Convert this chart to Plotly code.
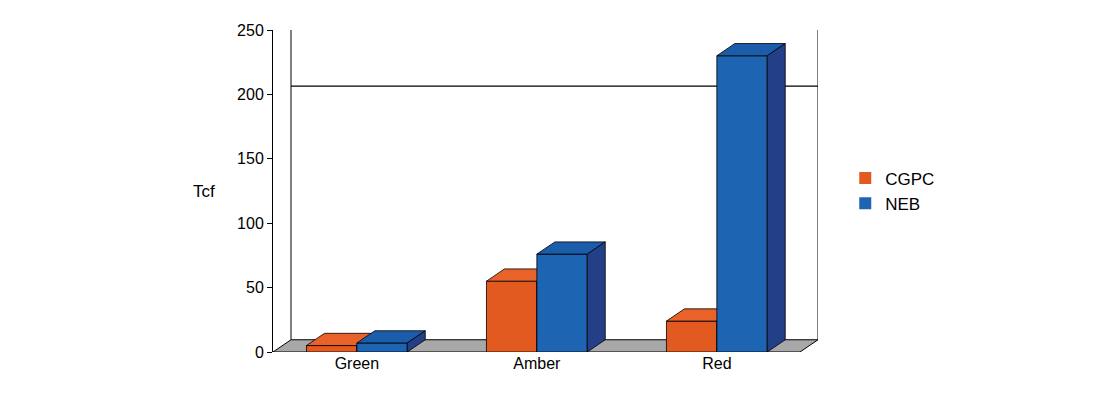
import plotly.graph_objects as go

categories = ["Green", "Amber", "Red"]
cgpc = [5, 55, 24]
neb = [7, 76, 230]
ref_line = 197
series = [("CGPC", cgpc, "#E35A20", "#E8622A", "#B8431A"),
          ("NEB", neb, "#1D64B2", "#1B5DAA", "#223F88")]

W = 0.28
DX = 0.1
DY = 9.5
XL, XR = -0.466, 2.462
xs = list(range(len(categories)))
fig = go.Figure()

fig.add_shape(type="path", path=f"M {XL} 0 L {XR} 0 L {XR+DX} {DY} L {XL+DX} {DY} Z",
              fillcolor="#A8A8A8", line=dict(color="black", width=1), layer="below")
fig.add_shape(type="path", path=f"M {XL+DX} {DY} L {XL+DX} {250+DY} L {XR+DX} {250+DY} L {XR+DX} {DY}",
              line=dict(color="black", width=1), layer="below")
fig.add_shape(type="line", x0=XL+DX, x1=XR+DX, y0=ref_line+DY, y1=ref_line+DY,
              line=dict(color="black", width=1.3), layer="below")

for k, (name, vals, front, top, side) in enumerate(series):
    offs = -W if k == 0 else 0
    for i, v in enumerate(vals):
        x0 = xs[i] + offs
        x1 = x0 + W
        fig.add_trace(go.Scatter(x=[x0, x1, x1, x0, x0], y=[0, 0, v, v, 0], fill="toself",
                                 fillcolor=front, line=dict(color="black", width=0.8), mode="lines",
                                 showlegend=False, hoverinfo="skip"))
        fig.add_trace(go.Scatter(x=[x0, x1, x1 + DX, x0 + DX, x0], y=[v, v, v + DY, v + DY, v], fill="toself",
                                 fillcolor=top, line=dict(color="black", width=0.8), mode="lines",
                                 showlegend=False, hoverinfo="skip"))
        fig.add_trace(go.Scatter(x=[x1, x1 + DX, x1 + DX, x1, x1], y=[0, DY, v + DY, v, 0], fill="toself",
                                 fillcolor=side, line=dict(color="black", width=0.8), mode="lines",
                                 showlegend=False, hoverinfo="skip"))
    fig.add_trace(go.Scatter(x=[None], y=[None], mode="markers", name=name,
                             marker=dict(symbol="square", size=13, color=front)))

fig.add_annotation(text="Tcf", xref="paper", yref="paper", x=-0.15, y=0.5, showarrow=False,
                   font=dict(size=17, color="black"))

fig.update_layout(
    width=1100, height=400, margin=dict(l=265, r=290, t=22, b=56),
    plot_bgcolor="white", paper_bgcolor="white",
    font=dict(family="Liberation Sans, Arial", size=16, color="black"),
    xaxis=dict(range=[XL, XL + 3.028], tickvals=xs, ticktext=categories, showgrid=False,
               zeroline=False, showline=False, ticks="", fixedrange=True),
    yaxis=dict(range=[0, 250], tickvals=[0, 50, 100, 150, 200, 250], showgrid=False, zeroline=False,
               showline=True, linecolor="black", ticks="outside", ticklen=5, tickcolor="black"),
    legend=dict(x=1.05, y=0.5, xanchor="left", yanchor="middle", font=dict(size=17),
                itemsizing="constant", tracegroupgap=14),
)
fig.write_html("out.html")
